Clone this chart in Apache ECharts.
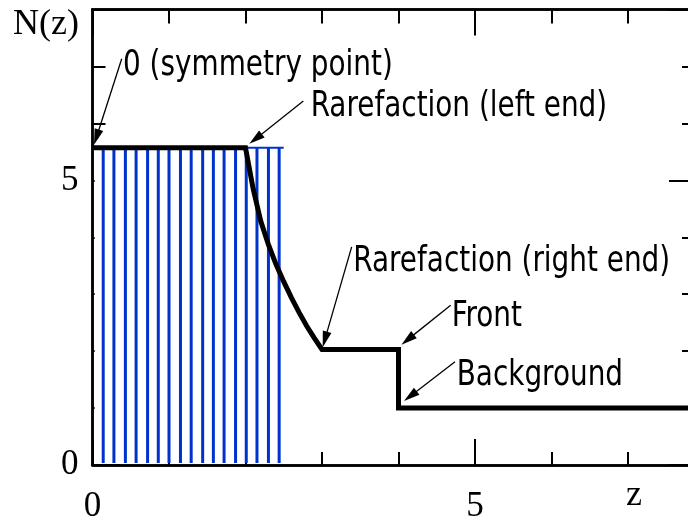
<!DOCTYPE html>
<html>
<head>
<meta charset="utf-8">
<script src="https://cdn.jsdelivr.net/npm/echarts@6/dist/echarts.min.js"></script>
<style>
  html, body { margin: 0; padding: 0; background: #fff; }
  #chart { width: 688px; height: 522px; }
</style>
</head>
<body>
<div id="chart"></div>
<script>
// Density profile N(z): flat core, rarefaction wave, plateau, front, background
const profileZ = [0, 2.0, 2.1, 2.2, 2.3, 2.4, 2.5, 2.6, 2.7, 2.8, 2.9, 3.0, 4.0, 4.0, 7.9];
const profileN = [5.57, 5.57, 4.85, 4.28, 3.87, 3.52, 3.22, 2.94, 2.68, 2.44, 2.23, 2.03, 2.03, 1.0, 1.0];

// Initial step (hatched region): stem positions and heights
const stemZ = [0.14, 0.28, 0.43, 0.57, 0.72, 0.86, 1.0, 1.15, 1.29, 1.44, 1.58, 1.72, 1.87, 2.01, 2.15, 2.3, 2.44];
const stemN = [5.57, 5.57, 5.57, 5.57, 5.57, 5.57, 5.57, 5.57, 5.57, 5.57, 5.57, 5.57, 5.57, 5.57, 5.57, 5.57, 5.57];
const stepTopZ = [0, 2.5];
const stepTopN = [5.57, 5.57];

// Axis ranges and labelled ticks
const zRange = [0, 7.876];
const nRange = [0, 8];
const labelledTicks = [0, 5];

// Annotations: label anchor (left, baseline), arrow start, arrow tip — data units
const noteText = ['0 (symmetry point)', 'Rarefaction (left end)', 'Rarefaction (right end)', 'Front', 'Background'];
const noteAt   = [[0.399, 6.872], [2.852, 6.153], [3.409, 3.433], [4.695, 2.456], [4.761, 1.421]];
const noteFrom = [[0.382, 7.135], [2.756, 6.391], [3.388, 3.830], [4.682, 2.807], [4.739, 1.812]];
const noteTo   = [[0.020, 5.623], [2.050, 5.640], [3.009, 2.070], [4.039, 2.114], [4.072, 1.123]];

const BLACK = '#000';
const BLUE = '#0033cc';
const SERIF = '"Liberation Serif", "DejaVu Serif", serif';

// choose an installed narrow sans for the annotations
function installed(family) {
  const c = document.createElement('canvas').getContext('2d');
  const probe = 'Rarefaction (left end) mmmwwwiii';
  c.font = '40px monospace';
  const w0 = c.measureText(probe).width;
  c.font = '40px "' + family + '", monospace';
  return Math.abs(c.measureText(probe).width - w0) > 0.5;
}
const noteFonts = [['Liberation Sans Narrow', 38, 1.0], ['DejaVu Sans Condensed', 31, 1.12], ['Noto Sans', 31, 1.1]];
let noteFont = noteFonts[noteFonts.length - 1];
for (const f of noteFonts) { if (installed(f[0])) { noteFont = f; break; } }

const profile = profileZ.map((z, i) => [z, profileN[i]]);
const stems = stemZ.map((z, i) => [z, stemN[i]]);
const stepTop = stepTopZ.map((z, i) => [z, stepTopN[i]]);

function tickLabel(v) { return labelledTicks.indexOf(v) >= 0 ? String(v) : ''; }

function axis(kind, pos, step, len, withLabels) {
  const range = kind === 'x' ? zRange : nRange;
  return {
    type: 'value',
    gridIndex: 0,
    position: pos,
    min: range[0],
    max: range[1],
    interval: step,
    splitLine: { show: false },
    axisLine: { show: true, onZero: false, lineStyle: { color: BLACK, width: 2.5 } },
    axisTick: { show: true, inside: true, length: len, lineStyle: { color: BLACK, width: 2 } },
    axisLabel: withLabels ? {
      show: true, formatter: tickLabel, color: BLACK,
      fontFamily: SERIF, fontSize: 35,
      margin: kind === 'x' ? 24 : 14,
      showMinLabel: true, showMaxLabel: true, hideOverlap: false
    } : { show: false }
  };
}

const chart = echarts.init(document.getElementById('chart'), null, { renderer: 'canvas' });

chart.setOption({
  animation: false,
  backgroundColor: '#fff',
  grid: { left: 92.5, right: -7, top: 9.5, bottom: 57, outerBoundsMode: 'none', containLabel: false },
  xAxis: [
    axis('x', 'bottom', 1, 13, true),
    axis('x', 'bottom', 5, 26, false),
    axis('x', 'top', 1, 14, false),
    axis('x', 'top', 5, 26, false)
  ],
  yAxis: [
    axis('y', 'left', 1, 13, true),
    axis('y', 'left', 5, 27, false),
    axis('y', 'right', 1, 13, false),
    axis('y', 'right', 5, 26, false)
  ],
  series: [
    {
      // white backing of the hatched step
      type: 'custom',
      xAxisIndex: 0, yAxisIndex: 0,
      z: 1,
      silent: true,
      data: [[stemZ[0] / 5, stepTopZ[1], 0.035, stemN[0]]],
      renderItem: function (params, api) {
        const p0 = api.coord([api.value(0), api.value(2)]);
        const p1 = api.coord([api.value(1), api.value(3)]);
        return {
          type: 'rect',
          shape: { x: p0[0], y: p1[1], width: p1[0] - p0[0], height: p0[1] - p1[1] },
          style: { fill: '#fff' }
        };
      }
    },
    {
      type: 'custom',
      xAxisIndex: 0, yAxisIndex: 0,
      z: 2,
      silent: true,
      data: stems,
      renderItem: function (params, api) {
        const base = api.coord([api.value(0), 0]);
        const top = api.coord([api.value(0), api.value(1)]);
        return {
          type: 'line',
          shape: { x1: base[0], y1: base[1] - 2, x2: top[0], y2: top[1] },
          style: { stroke: BLUE, lineWidth: 3 }
        };
      }
    },
    {
      type: 'line',
      xAxisIndex: 0, yAxisIndex: 0,
      z: 3,
      data: stepTop,
      symbol: 'none',
      lineStyle: { color: BLUE, width: 2 }
    },
    {
      type: 'line',
      xAxisIndex: 0, yAxisIndex: 0,
      z: 4,
      data: profile,
      symbol: 'none',
      lineStyle: { color: BLACK, width: 5, join: 'miter' }
    }
  ]
});

// annotation labels and arrows, placed through the axes
function px(p) { return chart.convertToPixel({ xAxisIndex: 0, yAxisIndex: 0 }, p); }

const graphics = [];
noteText.forEach(function (t, i) {
  const a = px(noteAt[i]);
  const s = px(noteFrom[i]);
  const e = px(noteTo[i]);
  const size = noteFont[1];
  const stretch = noteFont[2];
  graphics.push({
    type: 'text', z: 10,
    x: a[0], y: a[1],
    scaleY: stretch,
    style: {
      x: 0, y: -0.32 * size + 3, text: t,
      font: size + 'px "' + noteFont[0] + '", sans-serif',
      fill: BLACK, textAlign: 'left', textVerticalAlign: 'middle', align: 'left', verticalAlign: 'middle'
    }
  });
  const dx = e[0] - s[0], dy = e[1] - s[1];
  const L = Math.sqrt(dx * dx + dy * dy);
  const ux = dx / L, uy = dy / L;
  const head = 16, half = 4.5;
  const bx = e[0] - ux * head, by = e[1] - uy * head;
  graphics.push({
    type: 'line', z: 10,
    shape: { x1: s[0], y1: s[1], x2: bx + ux * 2, y2: by + uy * 2 },
    style: { stroke: BLACK, lineWidth: 1.3 }
  });
  graphics.push({
    type: 'polygon', z: 10,
    shape: { points: [[e[0], e[1]], [bx - uy * half, by + ux * half], [bx + uy * half, by - ux * half]] },
    style: { fill: BLACK }
  });
});

// axis titles
graphics.push({
  type: 'text', z: 10,
  style: { x: 13, y: 35 - 0.3 * 36, text: 'N(z)', font: '36px ' + SERIF, fill: BLACK,
           textAlign: 'left', textVerticalAlign: 'middle', align: 'left', verticalAlign: 'middle' }
});
graphics.push({
  type: 'text', z: 10,
  style: { x: 634, y: 506 - 0.3 * 36, text: 'z', font: '36px ' + SERIF, fill: BLACK,
           textAlign: 'center', textVerticalAlign: 'middle', align: 'center', verticalAlign: 'middle' }
});

chart.setOption({ graphic: graphics });
</script>
</body>
</html>
